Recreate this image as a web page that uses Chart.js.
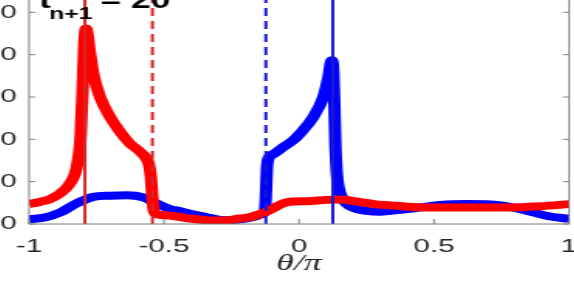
<!DOCTYPE html>
<html>
<head>
<meta charset="utf-8">
<script src="https://cdn.jsdelivr.net/npm/chart.js"></script>
<style>
  html, body { margin: 0; padding: 0; background: #fff; overflow: hidden; width: 574px; height: 287px; }
  /* the figure is a crop of a wider, horizontally stretched one */
  #wrap { position: absolute; left: -64px; top: -40px; width: 416px; height: 324px;
          transform: scaleX(1.55); transform-origin: 0 0; }
</style>
</head>
<body>
<div id="wrap"><canvas id="chart" width="416" height="324"></canvas></div>
<script>
// tick labels
const xTicks = [-1, -0.5, 0, 0.5, 1];
const yTicks = [0, 10, 20, 30, 40, 50];

// red curve
const redTheta = [-1, -0.96, -0.922, -0.885, -0.848, -0.823, -0.809, -0.801, -0.796, -0.789,
  -0.774, -0.762, -0.737, -0.7, -0.663, -0.626, -0.589, -0.562, -0.555, -0.549, -0.54, -0.533,
  -0.519, -0.465, -0.404, -0.342, -0.28, -0.219, -0.181, -0.157, -0.125, -0.095, -0.058, -0.021,
  0.031, 0.102, 0.154, 0.216, 0.278, 0.34, 0.401, 0.525, 0.648, 0.772, 0.895, 1];
const redValue = [4.7, 5.2, 5.9, 7.2, 9.6, 13.5, 20.6, 32.4, 41.8, 46.2,
  40.3, 35.5, 30, 25.3, 21.8, 19.0, 17.1, 15.1, 13.8, 11.2, 4.1, 2.5,
  2.2, 1.9, 1.3, 0.9, 0.8, 1.3, 1.6, 2.1, 2.8, 3.7, 4.9, 5.3,
  5.4, 5.7, 5.8, 5.3, 4.7, 4.4, 4.1, 3.9, 3.9, 3.9, 4.2, 4.7];

// blue curve
const blueTheta = [-1, -0.938, -0.885, -0.823, -0.762, -0.7, -0.638, -0.577, -0.527, -0.481,
  -0.44, -0.404, -0.342, -0.28, -0.219, -0.157, -0.135, -0.126, -0.122, -0.119, -0.114, -0.095,
  -0.058, -0.021, 0.004, 0.053, 0.09, 0.109, 0.121, 0.127, 0.131, 0.135, 0.14, 0.146, 0.164,
  0.201, 0.25, 0.3, 0.34, 0.426, 0.525, 0.623, 0.747, 0.846, 0.92, 1];
const blueValue = [1.1, 1.6, 2.7, 4.9, 6.4, 6.7, 6.8, 6.3, 4.8, 3.6,
  3.0, 2.4, 1.6, 0.9, 1.1, 1.9, 2.4, 3, 8, 13, 15.3, 16.5,
  18.2, 19.8, 21.4, 25.3, 30, 34.7, 38.7, 36, 28, 18, 12, 8.8, 5.7,
  3.8, 3.1, 2.9, 3.1, 3.7, 4.5, 4.7, 4.4, 3.1, 1.9, 1.2];

// vertical markers: red solid, red dashed, blue dashed, blue solid
const markerTheta = [-0.793, -0.543, -0.123, 0.125];
const markerColor = ['rgb(215,38,38)', 'rgb(215,38,38)', 'rgb(25,25,210)', 'rgb(25,25,210)'];
const markerDash = [[], [8, 5], [8, 5], []];

const yMax = 60;
const axisColor = 'rgb(125,125,125)';
const textColor = '#262626';

const toPoints = (xs, ys) => xs.map((x, i) => ({ x: x, y: ys[i] }));

const markerSets = markerTheta.map((t, i) => ({
  data: [{ x: t, y: 0 }, { x: t, y: yMax }],
  borderColor: markerColor[i],
  borderWidth: 2,
  borderDash: markerDash[i],
  showLine: true,
  pointRadius: 0
}));

// box with inward ticks, plus the t_{n+1} label
const framePlugin = {
  id: 'frame',
  afterDatasetsDraw(chart) {
    const ctx = chart.ctx;
    const { left, right, top, bottom } = chart.chartArea;
    const xs = chart.scales.x, ys = chart.scales.y;
    ctx.save();
    ctx.strokeStyle = axisColor;
    ctx.lineWidth = 1;
    ctx.strokeRect(left, top, right - left, bottom - top);
    ctx.beginPath();
    xTicks.forEach(v => {
      const p = xs.getPixelForValue(v);
      ctx.moveTo(p, bottom); ctx.lineTo(p, bottom - 5);
      ctx.moveTo(p, top); ctx.lineTo(p, top + 5);
    });
    yTicks.forEach(v => {
      const p = ys.getPixelForValue(v);
      ctx.moveTo(left, p); ctx.lineTo(left + 4, p);
      ctx.moveTo(right, p); ctx.lineTo(right - 4, p);
    });
    ctx.stroke();

    ctx.fillStyle = '#000';
    ctx.textBaseline = 'alphabetic';
    ctx.font = 'bold 23px "Liberation Sans", Arial, sans-serif';
    ctx.fillText('t', left + 6.5, top + 38.3);
    ctx.fillText('= 20', left + 46, top + 38.3);
    ctx.font = 'bold 16px "Liberation Sans", Arial, sans-serif';
    ctx.fillText('n+1', left + 13, top + 49);
    ctx.restore();
  }
};

new Chart(document.getElementById('chart'), {
  type: 'scatter',
  data: {
    datasets: [
      ...markerSets,
      { data: toPoints(redTheta, redValue), borderColor: 'rgb(255,0,0)', borderWidth: 8,
        showLine: true, pointRadius: 0, cubicInterpolationMode: 'monotone' },
      { data: toPoints(blueTheta, blueValue), borderColor: 'rgb(0,0,255)', borderWidth: 8,
        showLine: true, pointRadius: 0, cubicInterpolationMode: 'monotone' }
    ]
  },
  options: {
    responsive: false,
    animation: false,
    devicePixelRatio: 1,
    layout: { padding: { top: 10, right: 7.6, bottom: 0, left: 0 } },
    plugins: { legend: { display: false }, tooltip: { enabled: false } },
    scales: {
      x: {
        type: 'linear', min: -1, max: 1,
        afterBuildTicks: s => { s.ticks = xTicks.map(v => ({ value: v })); },
        afterFit: s => { s.height = 60; s.paddingLeft = 0; s.paddingRight = 0; },
        grid: { display: false, drawTicks: false },
        border: { display: false },
        ticks: { padding: 11, color: textColor, maxRotation: 0, autoSkip: false,
          callback: v => String(v),
          font: { family: '"Liberation Sans", Arial, sans-serif', size: 19 } },
        title: { display: true, text: 'θ/π', color: textColor, padding: { top: 0, bottom: 6 },
          font: { family: '"Liberation Serif", "Times New Roman", serif', style: 'italic', size: 23 } }
      },
      y: {
        type: 'linear', min: 0, max: yMax,
        afterBuildTicks: s => { s.ticks = yTicks.map(v => ({ value: v })); },
        afterFit: s => { s.width = 60; s.paddingTop = 0; s.paddingBottom = 0; },
        grid: { display: false, drawTicks: false },
        border: { display: false },
        ticks: { padding: 8, color: textColor, callback: v => String(v),
          font: { family: '"Liberation Sans", Arial, sans-serif', size: 19 } }
      }
    }
  },
  plugins: [framePlugin]
});
</script>
</body>
</html>
